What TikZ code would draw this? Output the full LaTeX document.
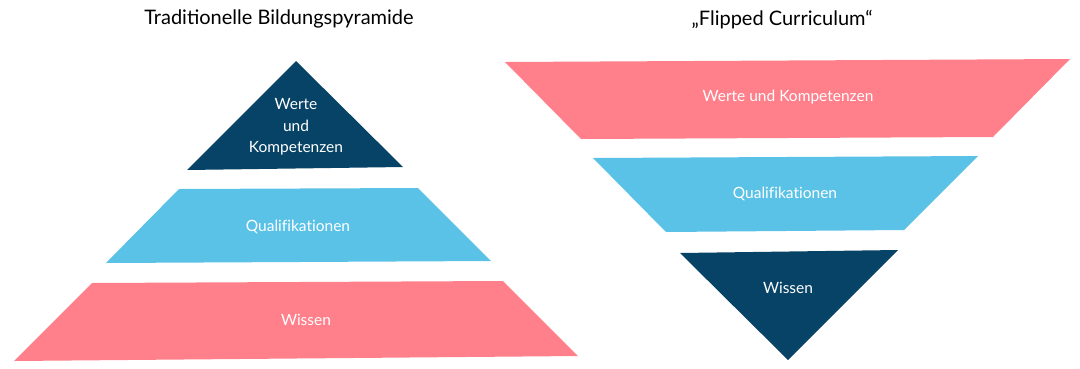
\documentclass[tikz,border=0pt]{standalone}
\usepackage{fontspec}
\setmainfont{Lato}
\newfontfamily\lblfont[Ligatures=NoCommon]{Lato}
\definecolor{navy}{RGB}{7,67,102}
\definecolor{sky}{RGB}{91,194,231}
\definecolor{rose}{RGB}{255,128,139}
\begin{document}
\begin{tikzpicture}[x=1pt,y=-1pt,
  title/.style={font=\fontsize{20}{24}\selectfont, text=black},
  lbl/.style={font=\lblfont\fontsize{15.5}{21.5}\selectfont, text=white, align=center}]
\useasboundingbox[fill=white] (0,0) rectangle (1080,368);
% left pyramid
\fill[navy] (296,61) -- (403,167) -- (187,170) -- cycle;
\fill[sky] (179,189) -- (418,188) -- (491,261) -- (106,263) -- cycle;
\fill[rose] (92,283) -- (503,281) -- (578,356) -- (14,361) -- cycle;
% right pyramid
\fill[rose] (505,62) -- (1070,59) -- (993,137) -- (581,139) -- cycle;
\fill[sky] (593,158) -- (978,156) -- (904,230) -- (666,232) -- cycle;
\fill[navy] (680,253) -- (898,250) -- (788,360) -- cycle;
% texts
\node[title] (t1) at (279,19) {Traditionelle Bildungspyramide};
\node[title] (t2) at (782,20) {„Flipped Curriculum“};
\node[lbl] (l1) at (296,127) {Werte\\und\\Kompetenzen};
\node[lbl] (l2) at (298,227) {Qualifikationen};
\node[lbl] (l3) at (306,320) {Wissen};
\node[lbl] (r1) at (788,97) {Werte und Kompetenzen};
\node[lbl] (r2) at (785,194) {Qualifikationen};
\node[lbl] (r3) at (788,288) {Wissen};
\end{tikzpicture}
\end{document}
